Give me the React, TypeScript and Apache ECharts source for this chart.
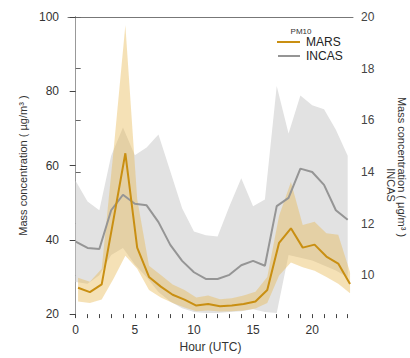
import React, { useEffect, useRef } from "react";
import * as echarts from "echarts";

const HOURS = [0, 1, 2, 3, 4, 5, 6, 7, 8, 9, 10, 11, 12, 13, 14, 15, 16, 17, 18, 19, 20, 21, 22, 23];
const MARS_HOURS = [0.2, 1.2, 2.2, 3.2, 4.2, 5.2, 6.2, 7.2, 8.2, 9.2, 10.2, 11.2, 12.2, 13.2, 14.2, 15.2, 16.2, 17.2, 18.2, 19.2, 20.2, 21.2, 22.2, 23.2];

// MARS, left axis (µg/m³)
const MARS_MEAN = [27.1, 25.9, 28.0, 45.5, 63.3, 37.9, 30.0, 27.4, 25.2, 23.9, 22.3, 22.7, 22.1, 22.3, 22.7, 23.4, 26.5, 39.2, 43.1, 37.9, 38.7, 35.5, 33.6, 28.1];
const MARS_UPPER = [29.8, 28.7, 32.2, 64.0, 97.8, 51.0, 33.0, 30.5, 28.0, 26.5, 24.5, 25.0, 24.0, 24.3, 25.0, 26.0, 30.0, 46.5, 55.6, 44.0, 44.9, 41.8, 41.4, 31.3];
const MARS_LOWER = [23.4, 23.0, 23.9, 29.5, 35.7, 32.2, 26.5, 24.5, 23.0, 21.8, 20.8, 21.0, 20.7, 20.8, 21.0, 21.5, 23.0, 30.4, 33.9, 32.6, 31.7, 30.0, 28.2, 25.6];

// INCAS, right axis (µg/m³)
const INCAS_MEAN = [11.31, 11.06, 11.02, 12.52, 13.12, 12.77, 12.71, 12.06, 11.18, 10.56, 10.12, 9.86, 9.86, 10.02, 10.39, 10.56, 10.37, 12.68, 13.0, 14.13, 14.0, 13.5, 12.52, 12.15];
const INCAS_UPPER = [13.65, 12.86, 12.52, 14.63, 15.72, 14.65, 14.95, 15.45, 14.03, 12.6, 11.7, 11.55, 11.5, 12.67, 13.76, 12.67, 12.94, 17.33, 15.49, 16.96, 16.58, 16.43, 15.64, 14.63];
const INCAS_LOWER = [9.74, 9.67, 10.0, 10.79, 11.06, 10.42, 9.93, 9.36, 8.99, 8.73, 8.58, 8.54, 8.54, 8.58, 8.61, 8.69, 8.58, 8.54, 10.79, 10.68, 10.57, 10.38, 10.19, 9.93];

const X_LABELS = [0, 5, 10, 15, 20];
const RIGHT_TICKS = [10, 12, 14, 16, 18, 20];

const FONT = "'Liberation Sans', Arial, Helvetica, sans-serif";
const MARS_COLOR = "#c98f12";
const INCAS_COLOR = "#959595";

export default function App() {
  const ref = useRef<HTMLDivElement>(null);
  useEffect(() => {
    const chart = echarts.init(ref.current as HTMLDivElement, null, { renderer: "svg" });
    const pair = (xs: number[], ys: number[]) => xs.map((x, i) => [x, ys[i]]);
    const band = (name: string, xs: number[], lo: number[], up: number[], yIdx: number, fill: string, opacity: number) => ({
      name,
      type: "custom",
      xAxisIndex: 0,
      yAxisIndex: yIdx,
      silent: true,
      clip: true,
      data: xs.map((x, i) => [x, lo[i], up[i]]),
      encode: { x: 0, y: [1, 2] },
      renderItem: (params: any, api: any) => {
        if (params.dataIndex !== 0) return null;
        const top = xs.map((x, i) => api.coord([x, up[i]]));
        const bottom = xs.map((x, i) => api.coord([x, lo[i]])).reverse();
        return {
          type: "polygon",
          shape: { points: top.concat(bottom) },
          style: { fill, opacity },
        };
      },
    });
    chart.setOption({
      animation: false,
      grid: { left: 68, right: 57, top: 17, bottom: 35 },
      xAxis: [
        {
          type: "value",
          min: -0.65,
          max: 23.45,
          axisLine: { show: false },
          splitLine: { show: false },
          axisTick: { show: true, customValues: HOURS, length: 4, lineStyle: { color: "#444" } },
          axisLabel: { customValues: X_LABELS, color: "#333", fontSize: 12, fontFamily: FONT, margin: 10 },
          name: "Hour (UTC)",
          nameLocation: "middle",
          nameGap: 24,
          nameTextStyle: { color: "#333", fontSize: 12, fontFamily: FONT },
        },
        {
          type: "value",
          position: "top",
          min: -0.65,
          max: 23.45,
          axisLine: { show: true, lineStyle: { color: "#777" } },
          axisTick: { show: false },
          axisLabel: { show: false },
          splitLine: { show: false },
        },
      ],
      yAxis: [
        {
          type: "value",
          min: 20,
          max: 100,
          interval: 20,
          position: "left",
          axisLine: { show: true, lineStyle: { color: "#444" } },
          axisTick: { show: true, length: 6, lineStyle: { color: "#444" } },
          axisLabel: { color: "#333", fontSize: 12, fontFamily: FONT, margin: 9 },
          splitLine: { show: false },
          name: "Mass concentration ( µg/m³ )",
          nameLocation: "middle",
          nameGap: 34,
          nameTextStyle: { color: "#333", fontSize: 11, fontFamily: FONT },
        },
        {
          type: "value",
          min: 8.5,
          max: 20,
          position: "right",
          axisLine: { show: true, lineStyle: { color: "#999" } },
          axisTick: { show: true, customValues: RIGHT_TICKS, length: 5, lineStyle: { color: "#666" } },
          axisLabel: { customValues: RIGHT_TICKS, color: "#444", fontSize: 12, fontFamily: FONT, margin: 8 },
          splitLine: { show: false },
        },
      ],
      series: [
        band("incas-band", HOURS, INCAS_LOWER, INCAS_UPPER, 1, "#e2e2e2", 1),
        band("mars-band", MARS_HOURS, MARS_LOWER, MARS_UPPER, 0, "#e6b850", 0.42),
        {
          name: "INCAS",
          type: "line",
          xAxisIndex: 0,
          yAxisIndex: 1,
          data: pair(HOURS, INCAS_MEAN),
          symbol: "none",
          lineStyle: { color: INCAS_COLOR, width: 2 },
        },
        {
          name: "MARS",
          type: "line",
          xAxisIndex: 0,
          yAxisIndex: 0,
          data: pair(MARS_HOURS, MARS_MEAN),
          symbol: "none",
          lineStyle: { color: MARS_COLOR, width: 2 },
        },
      ],
      graphic: [
        {
          type: "text",
          x: 402,
          y: 167,
          z: 100,
          rotation: -Math.PI / 2,
          style: { text: "Mass concentration ( µg/m³ )", fill: "#333", fontSize: 11, fontFamily: FONT, align: "center", verticalAlign: "middle" },
        },
        {
          type: "text",
          x: 391,
          y: 185,
          z: 100,
          rotation: -Math.PI / 2,
          style: { text: "INCAS", fill: "#333", fontSize: 11, fontFamily: FONT, align: "center", verticalAlign: "middle" },
        },
        {
          type: "text",
          x: 301,
          y: 31,
          z: 100,
          style: { text: "PM10", fill: "#333", fontSize: 8, fontFamily: FONT, align: "center", verticalAlign: "middle", lineHeight: 9 },
        },
        { type: "line", z: 100, shape: { x1: 277, y1: 42, x2: 300, y2: 42 }, style: { stroke: MARS_COLOR, lineWidth: 2 } },
        {
          type: "text",
          x: 306,
          y: 42,
          z: 100,
          style: { text: "MARS", fill: "#222", fontSize: 12, lineHeight: 12, fontFamily: FONT, align: "left", verticalAlign: "middle" },
        },
        { type: "line", z: 100, shape: { x1: 278, y1: 56, x2: 300, y2: 56 }, style: { stroke: INCAS_COLOR, lineWidth: 2 } },
        {
          type: "text",
          x: 306,
          y: 56,
          z: 100,
          style: { text: "INCAS", fill: "#222", fontSize: 12, lineHeight: 12, fontFamily: FONT, align: "left", verticalAlign: "middle" },
        },
      ],
    });
    return () => chart.dispose();
  }, []);
  return <div ref={ref} style={{ width: 410, height: 358, position: "absolute", left: 0, top: 0 }} />;
}
